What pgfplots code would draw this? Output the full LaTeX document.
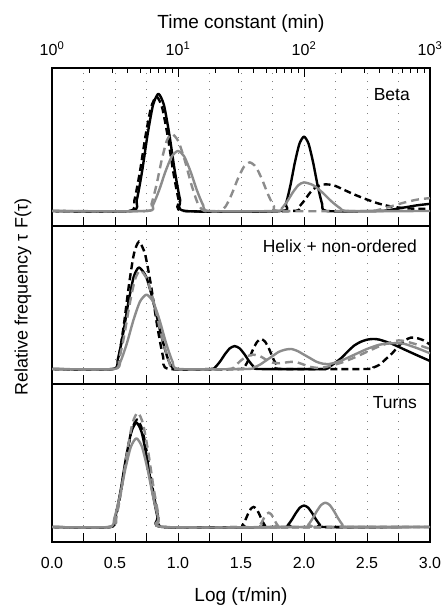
\documentclass[border=0pt]{standalone}
\usepackage{fontspec}
\setmainfont{Liberation Sans}
\usepackage{pgfplots}
\pgfplotsset{compat=1.18}
\definecolor{gc}{RGB}{140,140,140}
\newcommand\tlf{\fontsize{16}{18}\selectfont}
\newcommand\plf{\fontsize{17.5}{20}\selectfont}
\newcommand\alf{\fontsize{19}{22}\selectfont}
\pgfplotsset{
  panel/.style={
    width=378pt, height=158pt, scale only axis, anchor=north west,
    xmin=0, xmax=3, ymin=-0.105, ymax=1,
    ytick=\empty,
    xtick={0,0.5,1,1.5,2,2.5,3},
    minor xtick={0.25,0.75,1.25,1.75,2.25,2.75},
    xtick pos=bottom, tick align=inside,
    major tick length=9pt, minor tick length=9pt,
    every tick/.style={black, line width=1pt},
    grid=both,
    major grid style={black!50, line width=0.9pt, dash pattern=on 1pt off 7pt},
    minor grid style={black!50, line width=0.9pt, dash pattern=on 1pt off 7pt},
    axis line style={line width=1.3pt},
    xticklabels={}, 
    ticklabel style={font=\tlf},
    /pgf/number format/assume math mode=true,
  },
  bs/.style={black, line width=2.4pt, smooth, tension=0.4, line join=round},
  bd/.style={black, line width=2.4pt, smooth, tension=0.4, dash pattern=on 7pt off 4pt},
  gd/.style={gc, line width=2.4pt, smooth, tension=0.4, dash pattern=on 8pt off 5pt},
  gs/.style={gc, line width=2.4pt, smooth, tension=0.4, line join=round},
}
\begin{document}
\begin{tikzpicture}
% ---------------- Top panel: Beta
\begin{axis}[panel, at={(52pt,-68pt)}]
\addplot[bs] coordinates {(0,0) (0.630,0) (0.673,0.078) (0.716,0.283) (0.759,0.537) (0.802,0.742) (0.845,0.82) (0.888,0.742) (0.931,0.537) (0.974,0.283) (1.017,0.078) (1.060,0)
 (1.820,0) (1.856,0.049) (1.892,0.179) (1.928,0.341) (1.964,0.471) (2.000,0.52) (2.036,0.471) (2.072,0.341) (2.108,0.179) (2.144,0.049) (2.180,0)
 (2.6,0) (2.7,0.01) (2.8,0.025) (2.9,0.04) (3.0,0.05)};
\addplot[bd] coordinates {(0,0) (0.610,0) (0.654,0.076) (0.698,0.276) (0.742,0.524) (0.786,0.724) (0.830,0.80) (0.874,0.724) (0.918,0.524) (0.962,0.276) (1.006,0.076) (1.050,0)
 (1.9,0) (1.95,0.02) (2.0,0.07) (2.05,0.13) (2.1,0.17) (2.15,0.185) (2.2,0.185) (2.25,0.175) (2.3,0.155) (2.4,0.115) (2.5,0.08) (2.6,0.05) (2.7,0.03) (2.8,0.02) (2.9,0.015) (3.0,0.015)};
\addplot[gd] coordinates {(0,0) (0.75,0) (0.79,0.051) (0.83,0.186) (0.87,0.354) (0.91,0.489) (0.95,0.54) (1.002,0.489) (1.054,0.354) (1.106,0.186) (1.158,0.051) (1.21,0)
 (1.33,0) (1.378,0.032) (1.426,0.117) (1.474,0.223) (1.522,0.308) (1.57,0.34) (1.618,0.308) (1.666,0.223) (1.714,0.117) (1.762,0.032) (1.81,0)
 (2.5,0) (2.6,0.01) (2.7,0.035) (2.8,0.06) (2.9,0.08) (3.0,0.09)};
\addplot[gs] coordinates {(0,0) (0.75,0) (0.80,0.04) (0.85,0.145) (0.90,0.275) (0.95,0.38) (1.0,0.42) (1.05,0.38) (1.10,0.275) (1.15,0.145) (1.20,0.04) (1.25,0)
 (1.78,0) (1.824,0.019) (1.868,0.069) (1.912,0.131) (1.956,0.181) (2.0,0.2) (2.072,0.181) (2.144,0.131) (2.216,0.069) (2.288,0.019) (2.36,0) (3.0,0)};
\node[anchor=base east, inner sep=0pt, font=\plf] at (rel axis cs:0.947,0.797) {Beta};
\end{axis}
% top log axis
\begin{axis}[at={(52pt,-68pt)}, anchor=north west, width=378pt, height=158pt, scale only axis,
  xmode=log, xmin=1, xmax=1000, ymin=0, ymax=1,
  axis x line*=top, hide y axis,
  xtick={1,10,100,1000},
  xticklabels={10\textsuperscript{0},10\textsuperscript{1},10\textsuperscript{2},10\textsuperscript{3}},
  tick align=inside, major tick length=9pt, minor tick length=5pt,
  every tick/.style={black, line width=1pt},
  axis line style={line width=1.3pt},
  ticklabel style={font=\tlf},
  xticklabel style={anchor=center, yshift=19pt},
  xlabel={Time constant (min)},
  xlabel style={font=\alf, at={(axis description cs:0.5,1)}, anchor=center, yshift=44pt},
]
\addplot[draw=none] coordinates {(1,0) (1000,1)};
\end{axis}
% ---------------- Middle panel: Helix
\begin{axis}[panel, at={(52pt,-226pt)}]
\addplot[bs] coordinates {(0,0) (0.48,0) (0.522,0.067) (0.564,0.245) (0.606,0.465) (0.648,0.643) (0.69,0.71) (0.748,0.643) (0.806,0.465) (0.864,0.245) (0.922,0.067) (0.98,0)
 (1.26,0) (1.298,0.015) (1.336,0.055) (1.374,0.105) (1.412,0.145) (1.45,0.16) (1.488,0.145) (1.526,0.105) (1.564,0.055) (1.602,0.015) (1.64,0)
 (2.15,0) (2.2,0.015) (2.25,0.045) (2.3,0.08) (2.35,0.125) (2.4,0.165) (2.45,0.19) (2.5,0.205) (2.55,0.21) (2.6,0.205) (2.7,0.175) (2.8,0.135) (2.9,0.095) (3.0,0.056)};
\addplot[bd] coordinates {(0,0) (0.49,0) (0.53,0.085) (0.57,0.307) (0.61,0.583) (0.65,0.805) (0.69,0.89) (0.738,0.805) (0.786,0.583) (0.834,0.307) (0.882,0.085) (0.93,0)
 (1.50,0) (1.532,0.02) (1.564,0.072) (1.596,0.138) (1.628,0.19) (1.66,0.21) (1.692,0.19) (1.724,0.138) (1.756,0.072) (1.788,0.02) (1.82,0)
 (2.5,0) (2.55,0.01) (2.6,0.03) (2.65,0.07) (2.7,0.11) (2.75,0.16) (2.8,0.2) (2.85,0.22) (2.9,0.215) (2.95,0.2) (3.0,0.17)};
\addplot[gd] coordinates {(0,0) (0.49,0) (0.532,0.066) (0.574,0.238) (0.616,0.452) (0.658,0.624) (0.70,0.69) (0.756,0.624) (0.812,0.452) (0.868,0.238) (0.924,0.066) (0.98,0)
 (1.4,0) (1.45,0.02) (1.5,0.06) (1.55,0.09) (1.6,0.1) (1.65,0.09) (1.7,0.065) (1.75,0.045) (1.8,0.04) (1.85,0.045) (1.9,0.05) (1.95,0.045) (2.0,0.03) (2.05,0.015) (2.1,0.008) (2.15,0.01) (2.2,0.02) (2.3,0.045) (2.4,0.08) (2.5,0.12) (2.6,0.16) (2.7,0.19) (2.75,0.2) (2.8,0.195) (2.9,0.17) (3.0,0.14)};
\addplot[gs] coordinates {(0,0) (0.49,0) (0.542,0.049) (0.594,0.179) (0.646,0.341) (0.698,0.471) (0.75,0.52) (0.802,0.471) (0.854,0.341) (0.906,0.179) (0.958,0.049) (1.01,0)
 (1.55,0) (1.6,0.01) (1.65,0.03) (1.7,0.06) (1.75,0.09) (1.8,0.12) (1.85,0.135) (1.9,0.14) (1.95,0.125) (2.0,0.1) (2.05,0.075) (2.1,0.05) (2.15,0.037) (2.2,0.035) (2.25,0.045) (2.3,0.06) (2.4,0.1) (2.5,0.14) (2.6,0.17) (2.7,0.18) (2.75,0.18) (2.8,0.175) (2.9,0.145) (3.0,0.11)};
\node[anchor=base east, inner sep=0pt, font=\plf] at (rel axis cs:0.966,0.835) {Helix + non-ordered};
\end{axis}
% ---------------- Bottom panel: Turns
\begin{axis}[panel, at={(52pt,-384pt)},
  xticklabels={0.0,0.5,1.0,1.5,2.0,2.5,3.0},
  xticklabel style={anchor=center, yshift=-21pt},
  xlabel={Log (τ/min)},
  xlabel style={font=\alf, at={(axis description cs:0.5,0)}, anchor=center, yshift=-55pt}]
\addplot[bs] coordinates {(0,0) (0.46,0) (0.502,0.069) (0.544,0.252) (0.586,0.478) (0.628,0.661) (0.67,0.73) (0.712,0.661) (0.754,0.478) (0.796,0.252) (0.838,0.069) (0.88,0)
 (1.84,0) (1.872,0.014) (1.904,0.052) (1.936,0.098) (1.968,0.136) (2.0,0.15) (2.032,0.136) (2.064,0.098) (2.096,0.052) (2.128,0.014) (2.16,0) (3.0,0)};
\addplot[bd] coordinates {(0,0) (0.465,0) (0.507,0.071) (0.549,0.259) (0.591,0.491) (0.633,0.679) (0.675,0.75) (0.717,0.679) (0.759,0.491) (0.801,0.259) (0.843,0.071) (0.885,0)
 (1.49,0) (1.512,0.013) (1.534,0.048) (1.556,0.092) (1.578,0.127) (1.60,0.14) (1.622,0.127) (1.644,0.092) (1.666,0.048) (1.688,0.013) (1.71,0) (3.0,0)};
\addplot[gd] coordinates {(0,0) (0.47,0) (0.512,0.076) (0.554,0.276) (0.596,0.524) (0.638,0.724) (0.68,0.80) (0.722,0.724) (0.764,0.524) (0.806,0.276) (0.848,0.076) (0.89,0)
 (1.63,0) (1.648,0.01) (1.666,0.035) (1.684,0.066) (1.702,0.091) (1.72,0.1) (1.738,0.091) (1.756,0.066) (1.774,0.035) (1.792,0.01) (1.81,0) (3.0,0)};
\addplot[gs] coordinates {(0,0) (0.45,0) (0.494,0.059) (0.538,0.214) (0.582,0.406) (0.626,0.561) (0.67,0.62) (0.714,0.561) (0.758,0.406) (0.802,0.214) (0.846,0.059) (0.89,0)
 (2.0,0) (2.034,0.016) (2.068,0.059) (2.102,0.111) (2.136,0.154) (2.17,0.17) (2.204,0.154) (2.238,0.111) (2.272,0.059) (2.306,0.016) (2.34,0) (3.0,0)};
\node[anchor=base east, inner sep=0pt, font=\plf] at (rel axis cs:0.966,0.848) {Turns};
\end{axis}
\node[rotate=90, font=\fontsize{18}{20}\selectfont] at (23pt,-297pt) {Relative frequency τ F(τ)};
\pgfresetboundingbox
\path[use as bounding box] (0pt,0pt) rectangle (444pt,-607pt);
\end{tikzpicture}
\end{document}
